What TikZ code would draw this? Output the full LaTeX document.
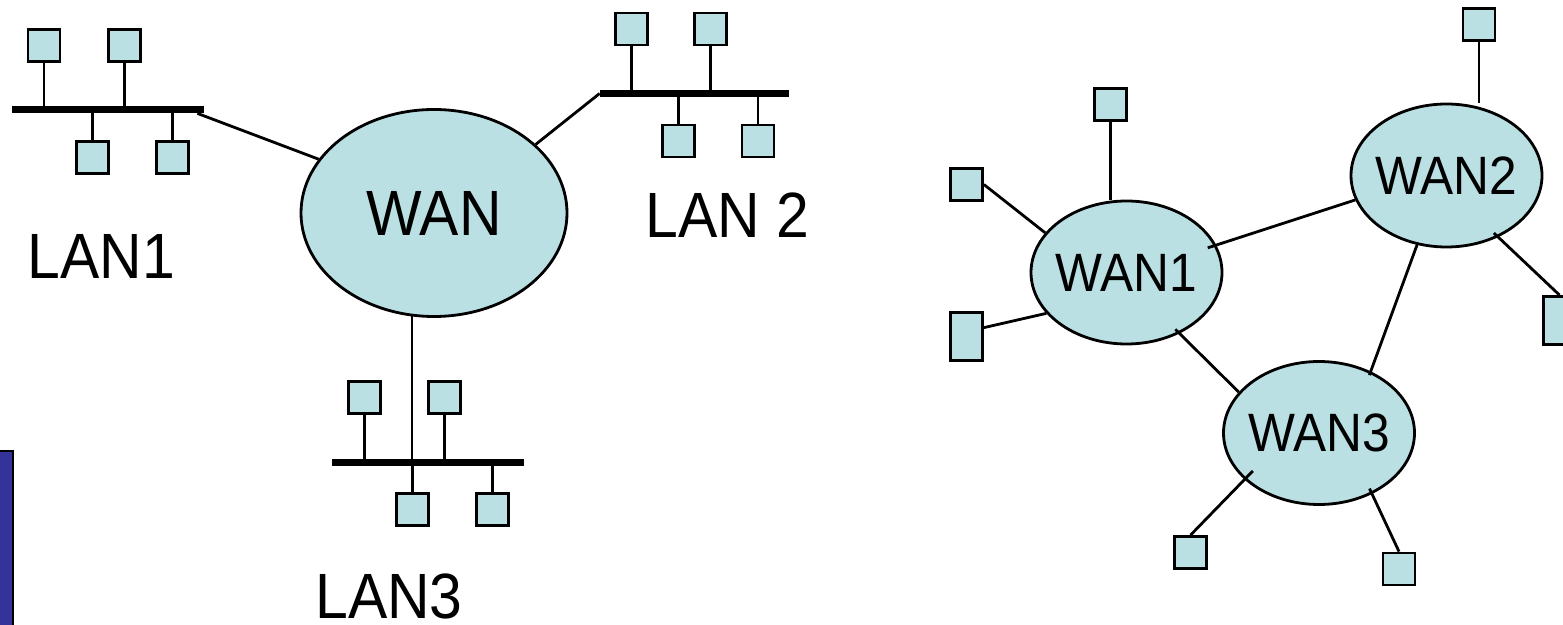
\documentclass[tikz,border=0pt]{standalone}
\usepackage{fontspec}
\setmainfont{Liberation Sans}
\usetikzlibrary{shapes.geometric}
\definecolor{netfill}{HTML}{BBE0E3}
\definecolor{barblue}{HTML}{333399}
\newcommand{\narrowtext}[1]{\scalebox{0.92}[1]{#1}}
\tikzset{
  link/.style={line width=1.4pt},
  host/.style={draw, fill=netfill, line width=1.4pt, minimum width=16pt, minimum height=16pt, inner sep=0pt},
  tallhost/.style={host, minimum height=24pt},
  cloud/.style={ellipse, draw, fill=netfill, line width=1.4pt, inner sep=0pt},
  bigcloud/.style={cloud, minimum width=133pt, minimum height=103.5pt, font=\fontsize{32}{32}\selectfont},
  smallcloud/.style={cloud, minimum width=95.5pt, minimum height=71.5pt, font=\fontsize{27}{27}\selectfont},
  busbar/.style={fill=black, inner sep=0pt, minimum height=3.5pt},
  lanname/.style={inner sep=0pt, font=\fontsize{32}{32}\selectfont},
}
\begin{document}
\begin{tikzpicture}[x=0.5pt, y=-0.5pt]
\useasboundingbox (0,0) rectangle (1563,625);
\clip (0,0) rectangle (1563,625);

% side bar
\draw[fill=barblue, line width=1pt] (-10,451) rectangle (13,640);

% ---------- left: three LANs joined by one WAN ----------
\node[bigcloud] (wan) at (434,213) {\makebox[0pt]{\narrowtext{WAN}}};

% LAN1
\node[busbar, minimum width=96pt] (bus1) at (108,109.5) {};
\node[host] (a1) at (44,45.5) {};
\node[host] (a2) at (124.5,45.5) {};
\node[host] (a3) at (92.5,157.5) {};
\node[host] (a4) at (172.5,157.5) {};
\foreach \h in {a1,a2,a3,a4} \draw[link] (\h) -- (\h |- bus1);
\draw[link] ([xshift=-3.5pt]bus1.south east) -- (wan.155);
\node[lanname] (lan1) at (101.5,256.5) {\narrowtext{LAN1}};

% LAN2
\node[busbar, minimum width=94.5pt] (bus2) at (694.5,93.5) {};
\node[host] (b1) at (631.5,29) {};
\node[host] (b2) at (710.5,29) {};
\node[host] (b3) at (678.5,141) {};
\node[host] (b4) at (758,141) {};
\foreach \h in {b1,b2,b3,b4} \draw[link] (\h) -- (\h |- bus2);
\draw[link] (bus2.west) -- (wan.34);
\node[lanname] (lan2) at (727.5,215) {\narrowtext{LAN 2}};

% LAN3
\node[busbar, minimum width=96pt] (bus3) at (428,462) {};
\node[host] (c1) at (364.5,397.5) {};
\node[host] (c2) at (444.5,397.5) {};
\node[host] (c3) at (412.5,509.5) {};
\node[host] (c4) at (492.5,509.5) {};
\foreach \h in {c1,c2,c3,c4} \draw[link] (\h) -- (\h |- bus3);
\draw[link] (wan.258) -- (wan.258 |- bus3);
\node[lanname] (lan3) at (389,596) {\narrowtext{LAN3}};

% ---------- right: three interconnected WANs ----------
\node[smallcloud] (wan1) at (1126.5,272.5) {\makebox[0pt]{\narrowtext{WAN1}}};
\node[smallcloud] (wan2) at (1446.5,175.5) {\makebox[0pt]{\narrowtext{WAN2}}};
\node[smallcloud] (wan3) at (1319,433) {\makebox[0pt]{\narrowtext{WAN3}}};

\node[host] (h1) at (1110.5,104.5) {};
\node[host] (h2) at (966.5,184.5) {};
\node[tallhost] (h3) at (966.5,336.5) {};
\node[host] (h4) at (1479,24.5) {};
\node[tallhost] (h5) at (1559.5,320.5) {};
\node[host] (h6) at (1190.5,552.5) {};
\node[host] (h7) at (1399,569) {};

\draw[link] (h1) -- (h1 |- wan1.north);
\draw[link] (h2.east) -- (wan1.154);
\draw[link] (h3.27) -- (wan1.207);
\draw[link, shorten <=-4.5pt] (wan1.17) -- (wan2.195);
\draw[link, shorten <=-3pt] (wan1.311) -- (wan3.153);
\draw[link] (h4) -- (h4 |- wan2.north);
\draw[link, shorten <=-3pt] (wan2.310) -- (h5.north);
\draw[link, shorten >=-2pt] (wan2.247) -- (wan3.50);
\draw[link, shorten >=-6pt] (h6.north) -- (wan3.212);
\draw[link, shorten >=-3pt] (h7.north) -- (wan3.311);
\end{tikzpicture}
\end{document}
